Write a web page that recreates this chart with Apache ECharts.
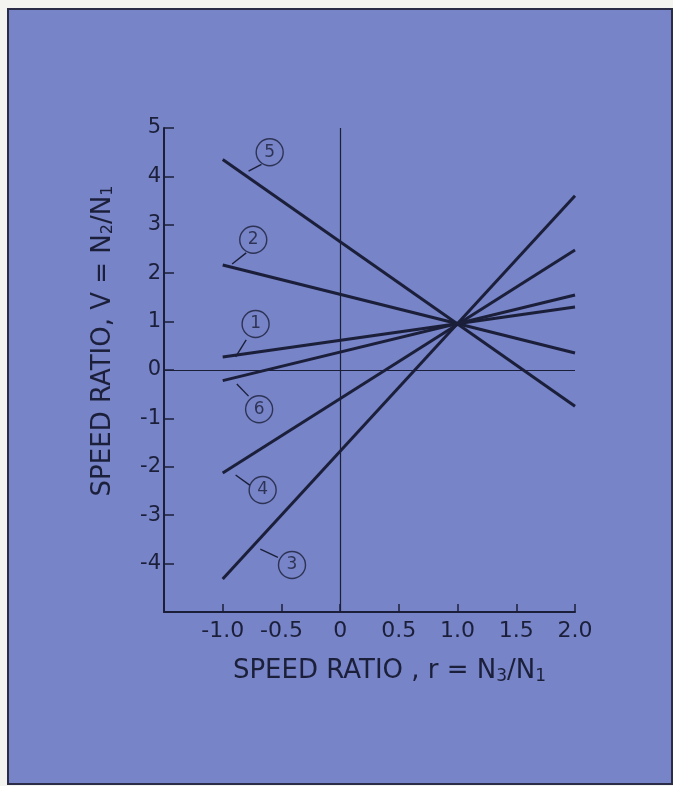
<!DOCTYPE html>
<html>
<head>
<meta charset="utf-8">
<script src="https://cdn.jsdelivr.net/npm/echarts@6/dist/echarts.min.js"></script>
<style>html,body{margin:0;padding:0;background:#f3f3ef;}#c{width:673px;height:786px;}</style>
</head>
<body>
<div id="c"></div>
<script>
// ---- data ----
const curveNames = ['1', '2', '3', '4', '5', '6'];
const rStart = -1.0;
const rEnd = 2.0;
const vAtStart = [0.27, 2.17, -4.32, -2.13, 4.35, -0.22];
const vAtEnd   = [1.30, 0.35, 3.60, 2.48, -0.75, 1.55];
// circled tag positions [r, V]
const tagPos = [[-0.72, 0.95], [-0.74, 2.69], [-0.41, -4.03], [-0.66, -2.48], [-0.60, 4.50], [-0.69, -0.81]];
// leader lines: from point near curve to circle edge
const leaderFrom = [[-0.89, 0.27], [-0.92, 2.19], [-0.68, -3.70], [-0.89, -2.17], [-0.78, 4.11], [-0.88, -0.29]];
const leaderTo   = [[-0.80, 0.62], [-0.80, 2.42], [-0.53, -3.87], [-0.77, -2.38], [-0.67, 4.25], [-0.78, -0.54]];
const xTickValues = [-1.0, -0.5, 0, 0.5, 1.0, 1.5, 2.0];
const xTickLabels = ['-1.0', '-0.5', '0', '0.5', '1.0', '1.5', '2.0'];
const yTickValues = [-4, -3, -2, -1, 0, 1, 2, 3, 4, 5];
const yTickLabels = ['-4', '-3', '-2', '-1', '0', '1', '2', '3', '4', '5'];

const ink = '#1b1f3a';
const bg = '#7784c7';
const font = 'DejaVu Sans';

const series = [];
curveNames.forEach((n, i) => {
  series.push({
    name: 'curve ' + n, type: 'line', symbol: 'none', silent: true,
    data: [[rStart, vAtStart[i]], [rEnd, vAtEnd[i]]],
    lineStyle: { color: ink, width: 3 }, z: 3
  });
  series.push({
    name: 'leader ' + n, type: 'line', symbol: 'none', silent: true,
    data: [leaderFrom[i], leaderTo[i]],
    lineStyle: { color: ink, width: 1.4 }, z: 3
  });
});
series.push({
  name: 'tags', type: 'scatter', symbol: 'circle', symbolSize: 27, silent: true,
  data: tagPos.map((p, i) => ({ value: p, name: curveNames[i] })),
  itemStyle: { color: 'rgba(0,0,0,0)', borderColor: ink, borderWidth: 1.4 },
  label: { show: true, position: 'inside', formatter: p => p.name, color: ink, fontSize: 17, fontFamily: font },
  z: 4
});
series.push({
  name: 'zero', type: 'line', data: [], silent: true,
  markLine: {
    silent: true, symbol: 'none', label: { show: false },
    lineStyle: { color: ink, width: 1.2, type: 'solid' },
    data: [{ xAxis: 0 }, { yAxis: 0 }]
  }
});

const chart = echarts.init(document.getElementById('c'));
chart.setOption({
  backgroundColor: '#f3f3ef',
  animation: false,
  graphic: [{
    type: 'rect', z: -10, silent: true,
    shape: { x: 8, y: 9, width: 664, height: 775 },
    style: { fill: bg, stroke: '#2a2d45', lineWidth: 2 }
  }],
  grid: { left: 164, right: 98, top: 128, bottom: 174 },
  xAxis: {
    type: 'value', min: -1.5, max: 2, interval: 0.5,
    axisLine: { show: true, onZero: false, lineStyle: { color: ink, width: 2 } },
    axisTick: { show: true, inside: true, length: 8, lineStyle: { color: ink, width: 1.5 } },
    splitLine: { show: false },
    axisLabel: {
      color: ink, fontSize: 22, fontFamily: font, margin: 8,
      formatter: v => { const k = xTickValues.findIndex(t => Math.abs(t - v) < 1e-6); return k < 0 ? '' : xTickLabels[k]; }
    },
    name: 'SPEED RATIO , r = N{s|3}/N{s|1}',
    nameLocation: 'middle', nameGap: 46,
    nameTextStyle: { color: ink, fontSize: 26, fontFamily: font, padding: [0, 0, 0, 40],
      rich: { s: { fontSize: 17, verticalAlign: 'bottom', padding: [10, 0, 0, 0], color: ink, fontFamily: font } } }
  },
  yAxis: {
    type: 'value', min: -5, max: 5, interval: 1,
    axisLine: { show: true, onZero: false, lineStyle: { color: ink, width: 2 } },
    axisTick: { show: true, inside: true, length: 10, lineStyle: { color: ink, width: 1.5 } },
    splitLine: { show: false },
    axisLabel: {
      color: ink, fontSize: 21, fontFamily: font, margin: 3,
      formatter: v => { const k = yTickValues.findIndex(t => Math.abs(t - v) < 1e-6); return k < 0 ? '' : yTickLabels[k]; }
    },
    name: 'SPEED RATIO, V = N{s|2}/N{s|1}',
    nameLocation: 'middle', nameGap: 48, nameRotate: 90,
    nameTextStyle: { color: ink, fontSize: 26, fontFamily: font, padding: [0, 0, 0, 58],
      rich: { s: { fontSize: 16, verticalAlign: 'bottom', padding: [10, 0, 0, 0], color: ink, fontFamily: font } } }
  },
  series: series
});
</script>
</body>
</html>
